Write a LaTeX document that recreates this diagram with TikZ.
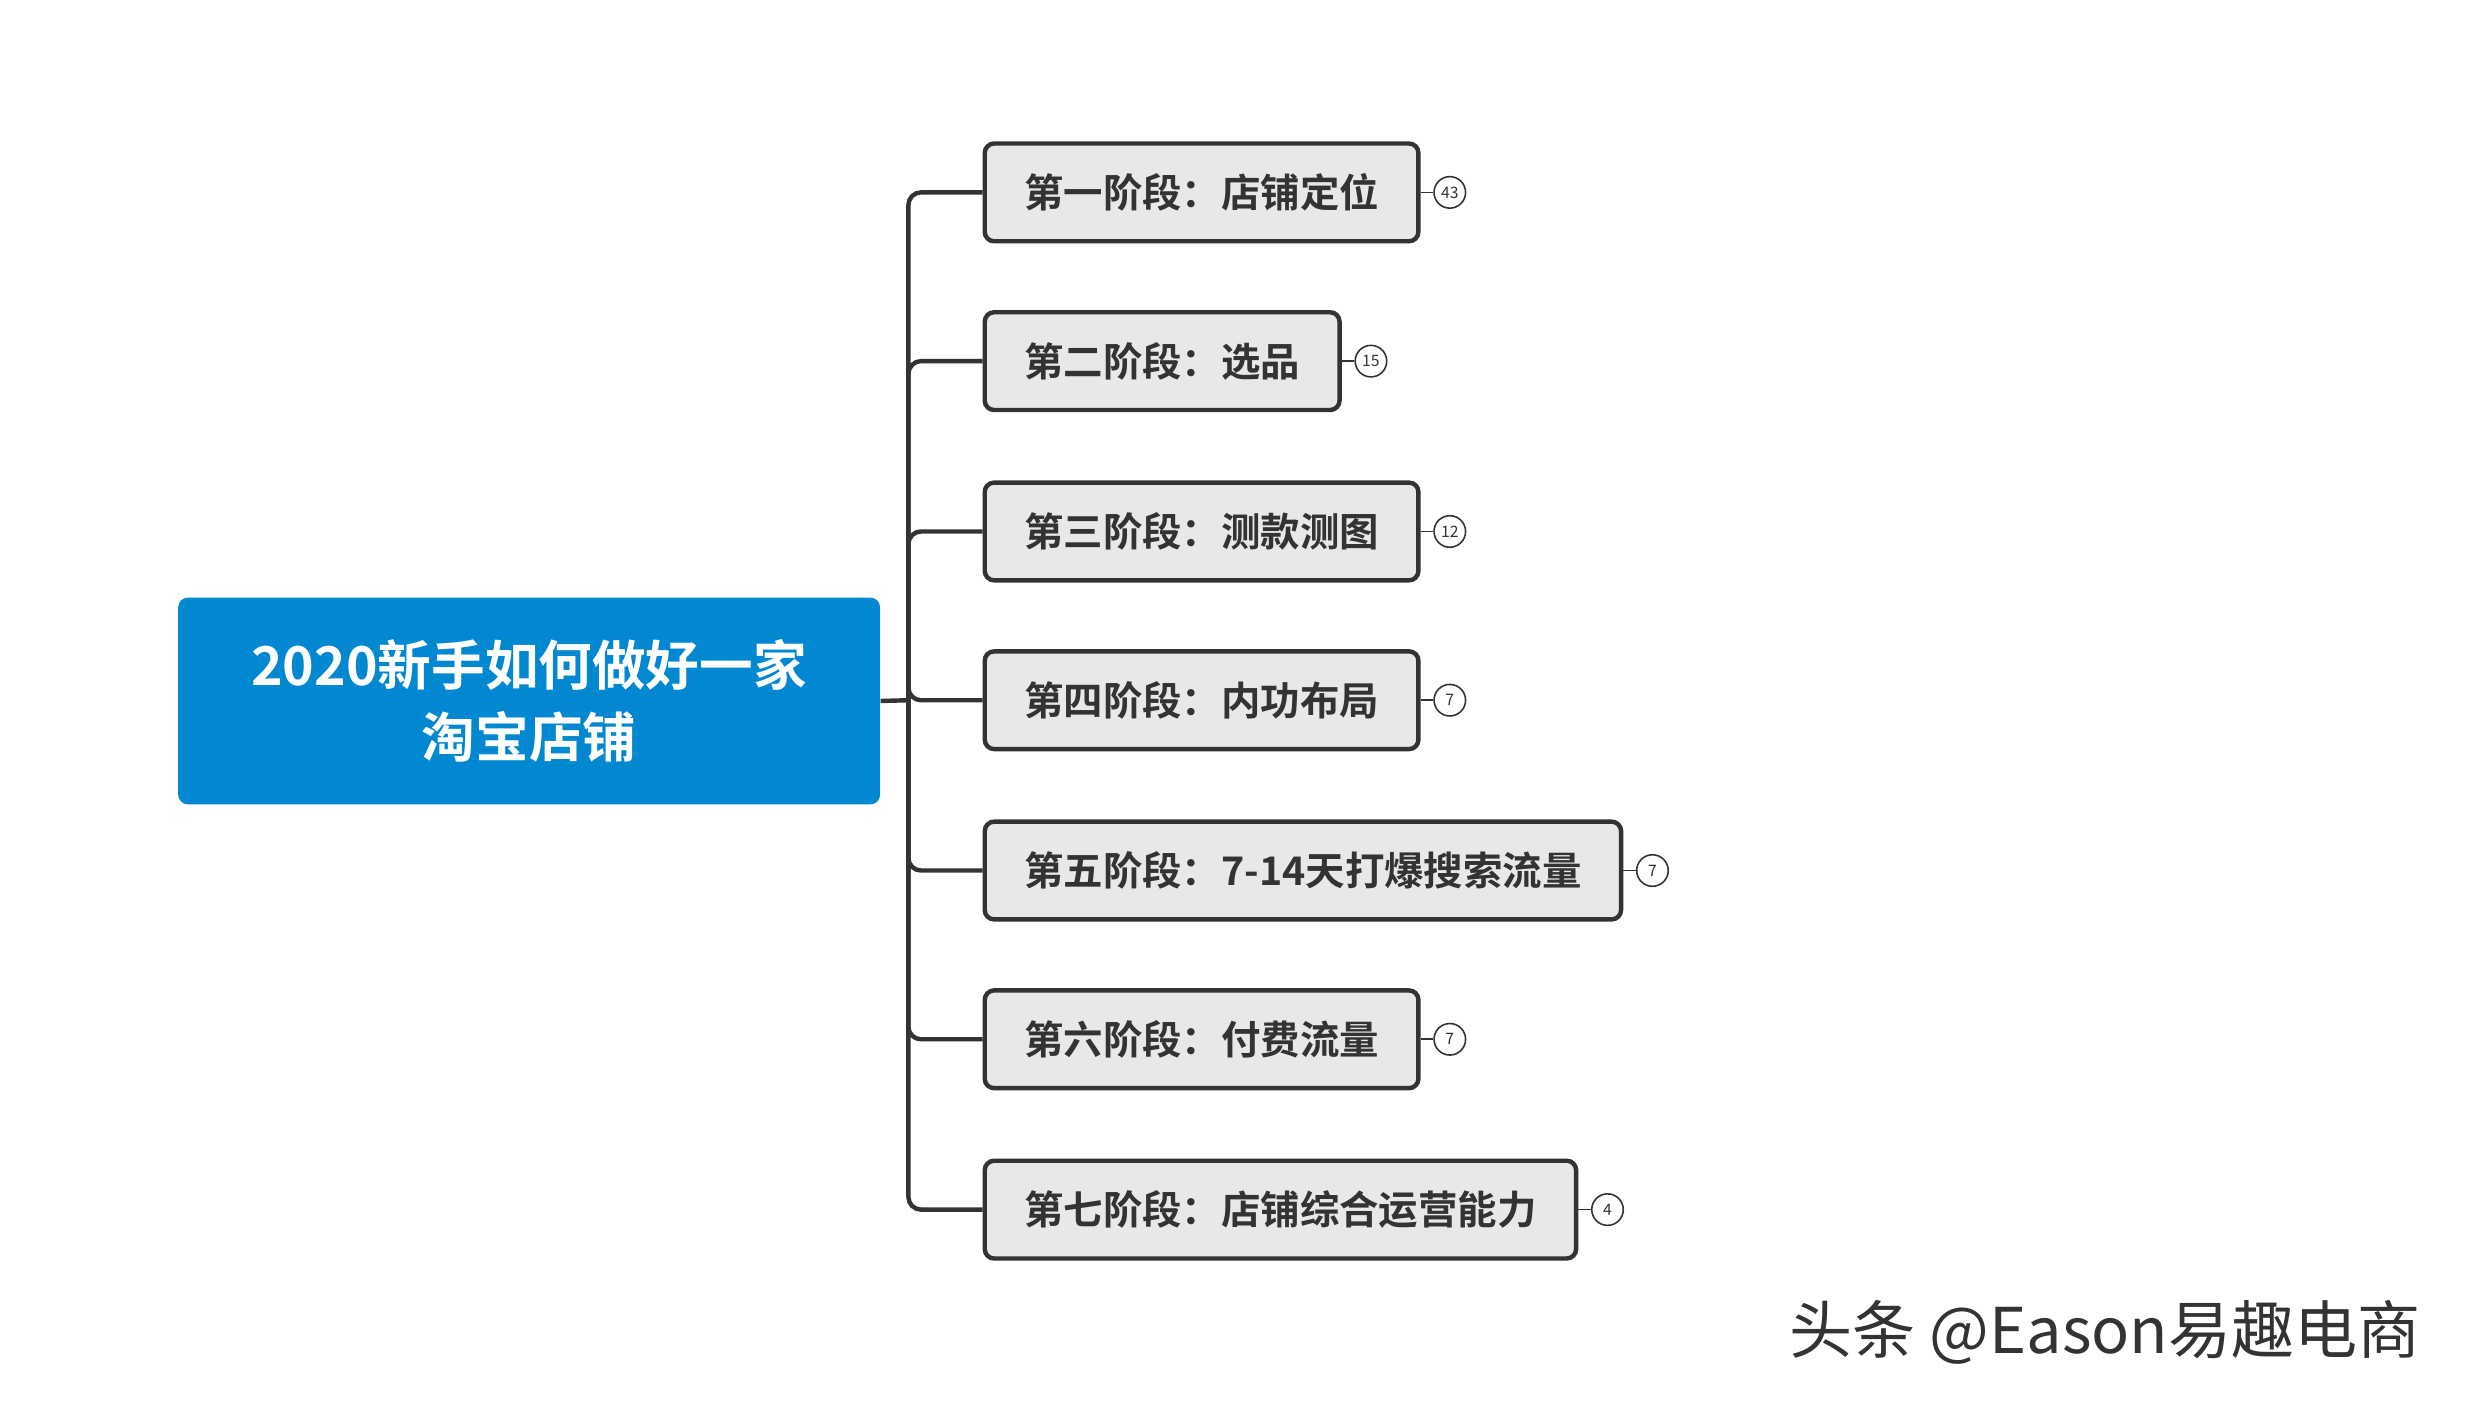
\documentclass[tikz,border=0pt]{standalone}
\usepackage{fontspec}
\setmainfont{Noto Sans CJK SC}[BoldFont={Noto Sans CJK SC Bold}]
\usetikzlibrary{arrows, positioning}
\definecolor{rootblue}{HTML}{0288D1}
\definecolor{stagegray}{HTML}{E8E8E8}
\definecolor{linegray}{HTML}{333333}

\begin{document}
\begin{tikzpicture}[x=0.5pt,y=-0.5pt]
		\tikzstyle{Root} = [rectangle, rounded corners=3pt, minimum width=222.5pt, minimum height=65.5pt, align=center, fill=rootblue, text=white, font=\fontsize{17}{23}\selectfont\bfseries]
		\tikzstyle{Stage} = [rectangle, rounded corners=3pt, anchor=west, minimum height=31pt, inner xsep=12.5pt, draw=linegray, line width=1.4pt, fill=stagegray, text=linegray, font=\fontsize{12.5}{14}\selectfont\bfseries]
		\tikzstyle{Badge} = [circle, draw=linegray, line width=0.5pt, minimum size=10pt, inner sep=0pt, text=linegray, font=\fontsize{5}{5}\selectfont]
		\tikzstyle{branch} = [linegray, line width=1.4pt, rounded corners=4pt]
		
		\useasboundingbox (0,0) rectangle (1570,892);
		
		\node (root) [Root] at (335.5,444.5) {2020新手如何做好一家\\淘宝店铺};
		\coordinate (trunk) at (576,444);
		\node (s1) [Stage] at (623,122) {第一阶段：店铺定位};
		\node (s2) [Stage] at (623,229) {第二阶段：选品};
		\node (s3) [Stage] at (623,337) {第三阶段：测款测图};
		\node (s4) [Stage] at (623,444) {第四阶段：内功布局};
		\node (s5) [Stage] at (623,552) {第五阶段：7-14天打爆搜索流量};
		\node (s6) [Stage] at (623,659) {第六阶段：付费流量};
		\node (s7) [Stage] at (623,767) {第七阶段：店铺综合运营能力};
		
		\draw [branch] (root.east) -- (trunk);
		\foreach \s/\n in {s1/43, s2/15, s3/12, s4/7, s5/7, s6/7, s7/4} {
			\draw [branch] (trunk) |- (\s.west);
			\node (\s count) [Badge, right=4pt of \s] {\n};
			\draw [linegray, line width=0.5pt] (\s.east) -- (\s count.west);
		}
		
		\node (mark) [anchor=east, text=linegray, font=\fontsize{20}{22}\selectfont] at (1542,845) {头条 @Eason易趣电商};
\end{tikzpicture}
\end{document}
